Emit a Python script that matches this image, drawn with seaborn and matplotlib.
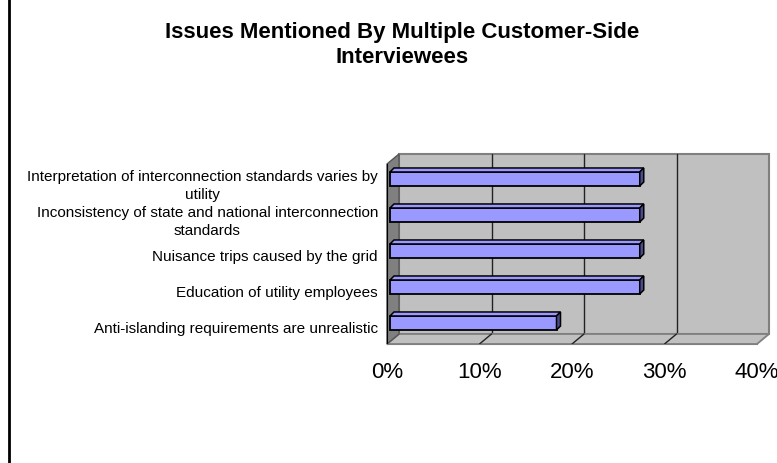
import numpy as np
import pandas as pd
import seaborn as sns
import matplotlib
matplotlib.use("Agg")
import matplotlib.pyplot as plt
from matplotlib.patches import Polygon, Rectangle
from matplotlib.lines import Line2D
from matplotlib.transforms import ScaledTranslation, IdentityTransform

# ---- data ----
categories = [
    "Interpretation of interconnection standards varies by\nutility",
    "Inconsistency of state and national interconnection\nstandards",
    "Nuisance trips caused by the grid",
    "Education of utility employees",
    "Anti-islanding requirements are unrealistic",
]
values = [27, 27, 27, 27, 18]
xticks = [0, 10, 20, 30, 40]
xtick_labels = ["0%", "10%", "20%", "30%", "40%"]
title = "Issues Mentioned By Multiple Customer-Side\nInterviewees"

sns.set_style("white")
plt.rcParams["font.family"] = ["Liberation Sans", "DejaVu Sans"]
plt.rcParams["text.color"] = "black"
plt.rcParams["xtick.color"] = "black"
plt.rcParams["ytick.color"] = "black"
plt.rcParams["axes.labelcolor"] = "black"

DPI = 100
W, H = 777, 464
fig = plt.figure(figsize=(W / DPI, H / DPI), dpi=DPI)
ax = fig.add_axes([387 / W, (H - 345) / H, 370 / W, 180 / H])
ax.patch.set_alpha(0)

df = pd.DataFrame({"issue": categories, "pct": values})
sns.barplot(data=df, x="pct", y="issue", orient="h", color="#9999FF",
            saturation=1, width=0.39, edgecolor="black", linewidth=1.3,
            ax=ax, zorder=6)

ax.set_xlim(0, 40)
ax.set_ylim(4.5, -0.5)
ax.set_xlabel("")
ax.set_ylabel("")
ax.set_xticks(xticks)
ax.set_xticklabels(xtick_labels, fontsize=16, color="black")
ax.set_yticks(range(len(categories)))
ax.set_yticklabels(categories, fontsize=11, linespacing=1.3,
                   multialignment="center", color="black")
ax.set_yticks(np.arange(-0.5, 5, 1), minor=True)
ax.tick_params(axis="y", which="major", length=0, pad=6.5)
ax.tick_params(axis="y", which="minor", length=5, width=1, color="black",
               direction="out")
ax.tick_params(axis="x", which="major", length=5, width=1, color="black",
               direction="out", pad=7)
for s in ["top", "right"]:
    ax.spines[s].set_visible(False)
ax.spines["left"].set_color("black")
ax.spines["left"].set_zorder(4)
ax.spines["bottom"].set_color("#808080")
ax.spines["bottom"].set_zorder(4)
ax.grid(False)

# depth offset (pixels)
DX, DY = 12, 10
ident = IdentityTransform()

def px(x, y):
    return ax.transData.transform((x, y))

# back wall
wall_tr = ax.transData + ScaledTranslation(DX / DPI, DY / DPI, fig.dpi_scale_trans)
ax.add_patch(Rectangle((0, -0.5), 40, 5, transform=wall_tr, facecolor="#C0C0C0",
                       edgecolor="#808080", linewidth=1.5, clip_on=False, zorder=0))
for xv in xticks[1:-1]:
    ax.add_line(Line2D([xv, xv], [-0.5, 4.5], transform=wall_tr, color="#222222",
                       linewidth=1, clip_on=False, zorder=1))

# floor
f0 = px(0, 4.5); f1 = px(40, 4.5)
floor = [f0, f1, f1 + [DX, DY], f0 + [DX, DY]]
ax.add_patch(Polygon(floor, closed=True, transform=ident, facecolor="#C0C0C0",
                     edgecolor="#808080", linewidth=1.3, clip_on=False, zorder=2))
for xv in xticks[1:-1]:
    p = px(xv, 4.5)
    ax.add_line(Line2D([p[0], p[0] + DX], [p[1], p[1] + DY], transform=ident,
                       color="#222222", linewidth=1, clip_on=False, zorder=3))

# left side wall
l0 = px(0, -0.5); l1 = px(0, 4.5)
side = [l1, l0, l0 + [DX, DY], l1 + [DX, DY]]
ax.add_patch(Polygon(side, closed=True, transform=ident, facecolor="#808080",
                     edgecolor="#555555", linewidth=1, clip_on=False, zorder=3))

# 3-D bars
BO = 3   # front-face offset
BD = 4   # bar depth
bar_tr = ax.transData + ScaledTranslation(BO / DPI, BO / DPI, fig.dpi_scale_trans)
for bar in list(ax.patches):
    if not hasattr(bar, "get_width"):
        continue
    if bar.get_facecolor()[:3] != matplotlib.colors.to_rgb("#9999FF"):
        continue
    bar.set_transform(bar_tr)
    bar.set_clip_on(False)
    x0, y0 = bar.get_x(), bar.get_y()
    w, h = bar.get_width(), bar.get_height()
    c = np.array([px(x0, y0), px(x0 + w, y0), px(x0 + w, y0 + h), px(x0, y0 + h)]) + BO
    left, right = c[:, 0].min(), c[:, 0].max()
    top, bot = c[:, 1].max(), c[:, 1].min()
    topface = [(left, top), (right, top), (right + BD, top + BD), (left + BD, top + BD)]
    sideface = [(right, bot), (right + BD, bot + BD), (right + BD, top + BD), (right, top)]
    ax.add_patch(Polygon(topface, closed=True, transform=ident, facecolor="#9999FF",
                         edgecolor="black", linewidth=1.1, clip_on=False, zorder=6))
    ax.add_patch(Polygon(sideface, closed=True, transform=ident, facecolor="#4C4C8C",
                         edgecolor="black", linewidth=1.1, clip_on=False, zorder=6))

# title
fig.text(402 / W, 1 - 45 / H, title, ha="center", va="center", fontsize=16,
         fontweight="bold", linespacing=1.25, color="black")

# left border line of chart area
fig.add_artist(Line2D([9 / W, 9 / W], [0, 1], transform=fig.transFigure,
                      color="black", linewidth=2))

fig.savefig("out.png", dpi=DPI, facecolor="white")
